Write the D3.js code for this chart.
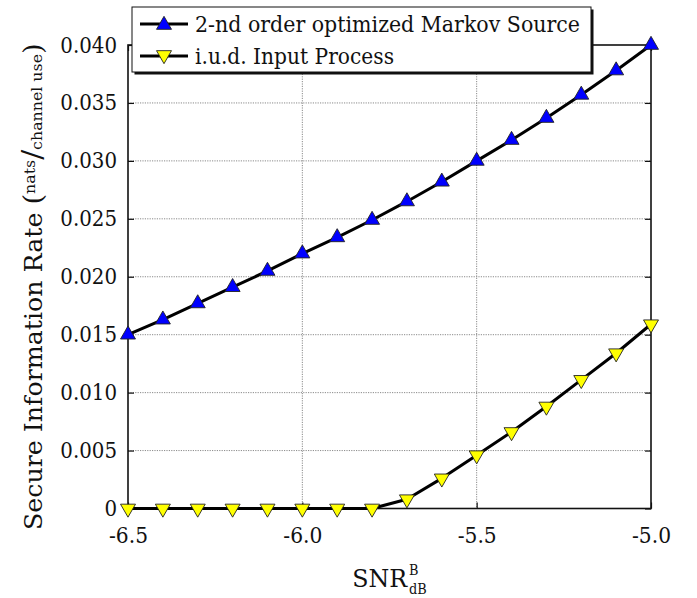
<!DOCTYPE html>
<html><head><meta charset="utf-8">
<script src="https://cdn.jsdelivr.net/npm/d3@7"></script>
<style>
body{margin:0;background:#fff;}
</style></head>
<body><svg id="c" width="697" height="598"></svg>
<script>
const snr = [-6.5,-6.4,-6.3,-6.2,-6.1,-6.0,-5.9,-5.8,-5.7,-5.6,-5.5,-5.4,-5.3,-5.2,-5.1,-5.0];
const markov = [0.0150,0.0163,0.0177,0.0191,0.0205,0.0220,0.0234,0.0249,0.0265,0.0282,0.0300,0.0318,0.0337,0.0357,0.0378,0.0400];
const iud = [0,0,0,0,0,0,0,0,0.0008,0.0026,0.0046,0.0066,0.0088,0.0111,0.0134,0.0159];
const xTicks = [-6.5,-6.0,-5.5,-5.0];
const xTickLabels = ["-6.5","-6.0","-5.5","-5.0"];
const yTicks = [0,0.005,0.010,0.015,0.020,0.025,0.030,0.035,0.040];
const yTickLabels = ["0","0.005","0.010","0.015","0.020","0.025","0.030","0.035","0.040"];
const seriesNames = ["2-nd order optimized Markov Source","i.u.d. Input Process"];

const FONT = "DejaVu Serif";
const svg = d3.select("#c");
const L=128, R=651, T=45, B=508.5;
const x = d3.scaleLinear().domain([-6.5,-5.0]).range([L,R]);
const y = d3.scaleLinear().domain([0,0.040]).range([B,T]);

// horizontally compress wide DejaVu Serif glyphs; returns new width
function squeeze(sel, k){
  let last = 0;
  sel.each(function(){
    const w = this.getComputedTextLength();
    last = w*k;
    d3.select(this).attr("textLength", last).attr("lengthAdjust","spacingAndGlyphs");
  });
  return last;
}

const grid = svg.append("g");
grid.selectAll("line.gy").data(yTicks.slice(1,-1)).join("line")
  .attr("x1",L).attr("x2",R).attr("y1",d=>y(d)).attr("y2",d=>y(d))
  .attr("stroke","#8a8a8a").attr("stroke-width",1).attr("stroke-dasharray","1.2,1.2");
grid.selectAll("line.gx").data(xTicks.slice(1,-1)).join("line")
  .attr("y1",T).attr("y2",B).attr("x1",d=>x(d)).attr("x2",d=>x(d))
  .attr("stroke","#8a8a8a").attr("stroke-width",1).attr("stroke-dasharray","1.2,1.2");

const tickLen = 6;
const axL = svg.append("g").attr("transform",`translate(${L},0)`)
  .call(d3.axisLeft(y).tickValues(yTicks).tickFormat((d,i)=>yTickLabels[i]).tickSizeInner(-tickLen).tickSizeOuter(0).tickPadding(11));
const axR = svg.append("g").attr("transform",`translate(${R},0)`)
  .call(d3.axisRight(y).tickValues(yTicks).tickFormat("").tickSizeInner(-tickLen).tickSizeOuter(0));
const axB = svg.append("g").attr("transform",`translate(0,${B})`)
  .call(d3.axisBottom(x).tickValues(xTicks).tickFormat((d,i)=>xTickLabels[i]).tickSizeInner(-tickLen).tickSizeOuter(0).tickPadding(19));
const axT = svg.append("g").attr("transform",`translate(0,${T})`)
  .call(d3.axisTop(x).tickValues(xTicks).tickFormat("").tickSizeInner(-tickLen).tickSizeOuter(0));
[axL,axR,axB,axT].forEach(a=>{
  a.attr("font-family",FONT);
  a.select(".domain").remove();
  a.selectAll(".tick line").attr("stroke","#111").attr("stroke-width",1.2);
  a.selectAll("text").attr("font-size",22).attr("fill","#111").attr("font-family",FONT);
});
axB.selectAll("text").attr("dy","0.71em");
squeeze(axL.selectAll("text"),0.9);
squeeze(axB.selectAll("text"),0.92);
svg.append("rect").attr("x",L).attr("y",T).attr("width",R-L).attr("height",B-T)
  .attr("fill","none").attr("stroke","#111").attr("stroke-width",1.6);

const W=15,H=13;
const upTri = `M0,${-2*H/3}L${W/2},${H/3}L${-W/2},${H/3}Z`;
const dnTri = `M0,${2*H/3}L${W/2},${-H/3}L${-W/2},${-H/3}Z`;

const line = d3.line().x((d,i)=>x(snr[i])).y(d=>y(d));
const series = [
  {vals:markov, path:upTri, color:"#0000ff"},
  {vals:iud, path:dnTri, color:"#ffff00"}
];
series.forEach(s=>{
  svg.append("path").attr("d",line(s.vals)).attr("fill","none")
    .attr("stroke","#000").attr("stroke-width",3).attr("stroke-linejoin","round");
});
series.forEach(s=>{
  svg.append("g").selectAll("path").data(s.vals).join("path")
    .attr("transform",(d,i)=>`translate(${x(snr[i])},${y(d)})`)
    .attr("d",s.path).attr("fill",s.color).attr("stroke","#222").attr("stroke-width",0.9);
});

const lg = svg.append("g");
const lx=132, ly=7, lw=459, lh=65;
lg.append("rect").attr("x",lx+2.5).attr("y",ly+2.5).attr("width",lw).attr("height",lh).attr("fill","#111");
lg.append("rect").attr("x",lx).attr("y",ly).attr("width",lw).attr("height",lh).attr("fill","#fff").attr("stroke","#111").attr("stroke-width",1);
const rowsY=[24,56];
const legendLen=[385,199];
series.forEach((s,i)=>{
  lg.append("line").attr("x1",140).attr("x2",188).attr("y1",rowsY[i]).attr("y2",rowsY[i])
    .attr("stroke","#000").attr("stroke-width",3);
  lg.append("path").attr("transform",`translate(164,${rowsY[i]+(i===0?1:-1)})`).attr("d",s.path)
    .attr("fill",s.color).attr("stroke","#222").attr("stroke-width",0.9);
  lg.append("text").attr("x",195).attr("y",rowsY[i]+8).attr("font-size",23)
    .attr("font-family",FONT).attr("fill","#111")
    .attr("textLength",legendLen[i]).attr("lengthAdjust","spacingAndGlyphs").text(seriesNames[i]);
});

const xl = svg.append("g").attr("font-family",FONT).attr("fill","#111");
const snrT = xl.append("text").attr("x",0).attr("y",587).attr("font-size",25).text("SNR");
const sw = squeeze(snrT,0.95);
const supT = xl.append("text").attr("x",sw+2).attr("y",575).attr("font-size",14).text("B");
const subT = xl.append("text").attr("x",sw+2).attr("y",594).attr("font-size",14).text("dB");
squeeze(supT,0.92);
const dbw = squeeze(subT,0.92);
const totW = sw+2+dbw;
xl.attr("transform",`translate(${(L+R)/2 - totW/2},0)`);

const yg = svg.append("g").attr("font-family",FONT).attr("fill","#111");
const yt = yg.append("text").attr("x",0).attr("y",0);
yt.append("tspan").attr("font-size",24).text("Secure Information Rate ");
yt.append("tspan").attr("font-size",26).text("(");
yt.append("tspan").attr("font-size",15).attr("dy",-7).text("nats");
yt.append("tspan").attr("font-size",28).attr("dy",7).text("/");
yt.append("tspan").attr("font-size",15).text("channel use");
yt.append("tspan").attr("font-size",26).text(")");
const ylen = yt.node().getComputedTextLength();
const sx = 487/ylen;
yt.attr("x",-ylen/2);
yg.attr("transform",`translate(42,286.5) rotate(-90) scale(${sx},1)`);
</script></body></html>
